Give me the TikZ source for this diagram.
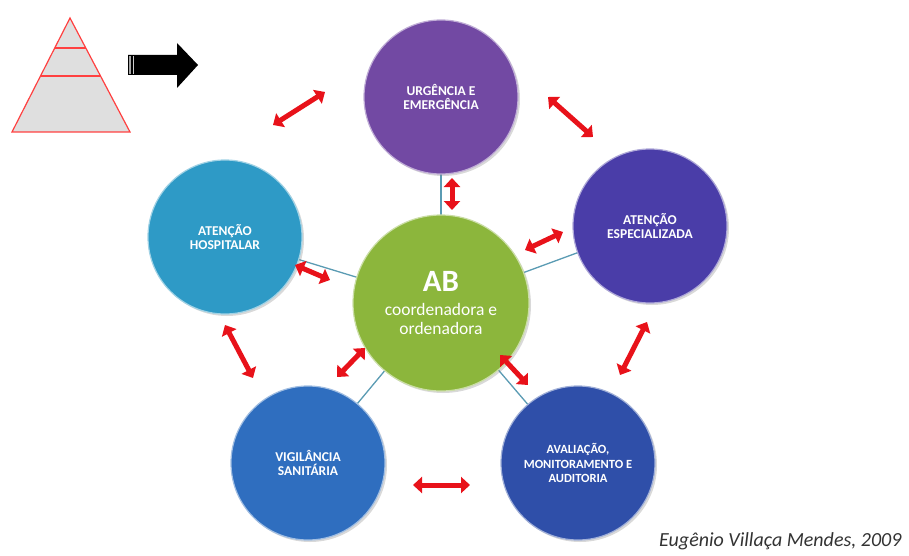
\documentclass[tikz,border=0pt]{standalone}
\usepackage{fontspec}
\setmainfont{Carlito}
\usetikzlibrary{arrows.meta, positioning, calc, backgrounds, shadows}
\usepackage{xcolor}
\definecolor{urgcol}{HTML}{7249A3}
\definecolor{espcol}{HTML}{4A3DA8}
\definecolor{hospcol}{HTML}{2E9AC6}
\definecolor{abcol}{HTML}{8CB63C}
\definecolor{vigcol}{HTML}{2F6EBF}
\definecolor{avalcol}{HTML}{2F4FA9}
\definecolor{linkcol}{HTML}{5A9BB3}
\definecolor{swapred}{HTML}{E8121A}

\begin{document}
\begin{tikzpicture}[x=1pt, y=-1pt,
    area/.style={circle, minimum size=154pt, inner sep=0pt, fill=#1, draw=white!55!#1,
                 line width=1.2pt, text=white, align=center,
                 font=\bfseries\fontsize{13.5}{14.5}\selectfont,
                 drop shadow={opacity=0.3, shadow xshift=2pt, shadow yshift=-2pt}},
    link/.style={draw=linkcol, line width=1.3pt},
    swap/.style={draw=swapred, line width=5pt,
                 {Triangle[length=9pt, width=16pt]}-{Triangle[length=9pt, width=16pt]}},
]
\useasboundingbox (0,0) rectangle (909,556);

\coordinate (apex) at (70,18);
\coordinate (bl) at (12,132);
\coordinate (br) at (130,132);
\filldraw[fill=gray!25, draw=red!75, line width=1.2pt] (bl) -- (apex) -- (br) -- cycle;
\draw[red!75, line width=1.2pt] ($(apex)!0.263!(bl)$) -- ($(apex)!0.263!(br)$);
\draw[red!75, line width=1.2pt] ($(apex)!0.509!(bl)$) -- ($(apex)!0.509!(br)$);

\fill (128,55) -- (177,55) -- (177,43) -- (198,65) -- (177,88) -- (177,75) -- (128,75) -- cycle;
\fill[gray!70] (129,56) rectangle (131,74);
\fill[gray!40] (133,56) rectangle (134,74);

\node[area=abcol, minimum size=176pt, font=\fontsize{17.5}{19}\selectfont] (ab) at (441,303)
     {{\bfseries\fontsize{31}{31}\selectfont AB}\\[5pt]coordenadora e\\ordenadora};
\node[area=urgcol] (urg) at (441,97) {URGÊNCIA E\\EMERGÊNCIA};
\node[area=espcol] (esp) at (650,226) {ATENÇÃO\\ESPECIALIZADA};
\node[area=hospcol] (hosp) at (225,237) {ATENÇÃO\\HOSPITALAR};
\node[area=vigcol] (vig) at (308,463) {VIGILÂNCIA\\SANITÁRIA};
\node[area=avalcol, font=\bfseries\fontsize{12.5}{14.5}\selectfont] (aval) at (578,463)
     {AVALIAÇÃO,\\MONITORAMENTO E\\AUDITORIA};

\begin{pgfonlayer}{background}
\foreach \n in {urg, esp, hosp, vig, aval}
    \draw[link] (ab.center) -- (\n.center);
\end{pgfonlayer}

\foreach \i/\a/\b/\c/\d in {1/273/125/325/92, 2/548/97/593/137, 3/452/178/452/210,
        4/525/250/563/232, 5/295/265/330/280, 6/225/325/253/378, 7/337/377/365/348,
        8/500/355/528/385, 9/647/322/620/375, 10/413/485/470/485} {
    \coordinate (s\i) at (\a,\b);
    \coordinate (e\i) at (\c,\d);
    \draw[swap] (s\i) -- (e\i);
}

\node[anchor=base east, font=\itshape\fontsize{20}{24}\selectfont, text=black!80] (credit)
     at (905,546) {Eugênio Villaça Mendes, 2009};
\end{tikzpicture}
\end{document}
